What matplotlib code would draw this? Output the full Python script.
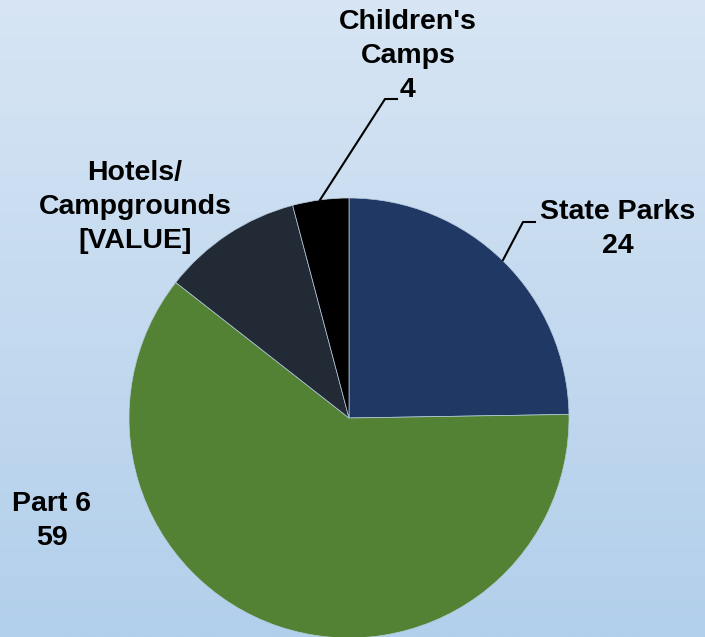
import numpy as np
import matplotlib
matplotlib.use('Agg')
import matplotlib.pyplot as plt

"""
Pie chart of facilities by category, labels outside with leader lines
"""

labels = ["State Parks", "Part 6", "Hotels/\nCampgrounds", "Children's\nCamps"]
values = [24, 59, 10, 4]
value_text = ["24", "59", "[VALUE]", "4"]
colors = ["#1f3864", "#548235", "#222a35", "#000000"]

W, H = 705, 637

def main():
  plt.rcParams['font.family'] = ['Liberation Sans', 'DejaVu Sans']
  fig = plt.figure(figsize=(W/100, H/100), dpi=100)
  ax = fig.add_axes([0, 0, 1, 1])

  # vertical background gradient, light at top
  top = np.array([215, 229, 244])/255.
  bot = np.array([178, 207, 235])/255.
  t = np.linspace(0, 1, 256)[:, None]
  grad = top*(1-t) + bot*t
  ax.imshow(grad[:, None, :], extent=[0, W, 0, H], aspect='auto',
            origin='upper', zorder=0)

  # pie centred at pixel (349, 418), radius 220
  cx, cy, r = 349, H - 418, 220
  ax.pie(values, colors=colors, startangle=90, counterclock=False,
         center=(cx, cy), radius=r, frame=True,
         wedgeprops=dict(edgecolor='#b8cce0', linewidth=0.5))
  ax.set_xlim(0, W)
  ax.set_ylim(0, H)
  ax.axis('off')

  txt = dict(fontsize=20.5, fontweight='bold', ha='center', va='center',
             linespacing=1.38, color='black')

  # State Parks
  ax.text(618, H - 229, labels[0] + "\n" + value_text[0], **txt)
  ax.plot([503, 523, 535], [H - 260, H - 222, H - 222], color='black', lw=1.5)

  # Part 6
  ax.text(52, H - 521, labels[1] + "\n" + value_text[1], **txt)

  # Hotels/Campgrounds
  ax.text(135, H - 207, labels[2] + "\n" + value_text[2], **txt)

  # Children's Camps
  ax.text(408, H - 56, labels[3] + "\n" + value_text[3], **txt)
  ax.plot([320, 385, 397], [H - 200, H - 99, H - 99], color='black', lw=1.5)

  fig.savefig('out.png', dpi=100)

if __name__ == '__main__':
  main()
